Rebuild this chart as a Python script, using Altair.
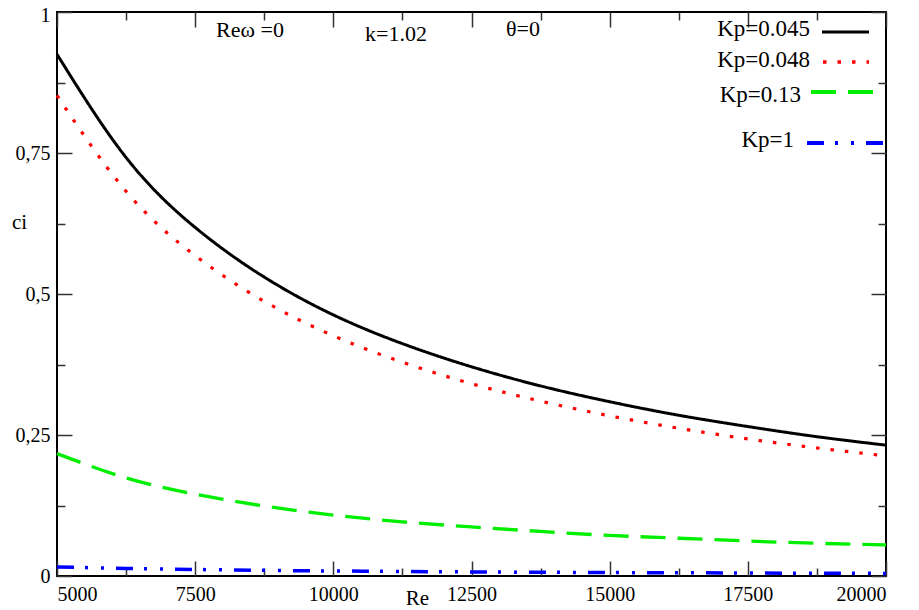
import altair as alt
import pandas as pd

# ---- data ----
re_vals = [5000, 6250, 7500, 8750, 10000, 11250, 12500, 13750, 15000, 16250, 17500, 18750, 20000]
ci_kp045 = [0.925, 0.742, 0.618, 0.530, 0.463, 0.412, 0.371, 0.337, 0.309, 0.285, 0.265, 0.247, 0.232]
ci_kp048 = [0.852, 0.682, 0.568, 0.487, 0.426, 0.379, 0.341, 0.310, 0.284, 0.262, 0.243, 0.227, 0.213]
ci_kp013 = [0.217, 0.174, 0.145, 0.124, 0.108, 0.096, 0.087, 0.079, 0.072, 0.067, 0.062, 0.058, 0.055]
ci_kp1 = [0.016, 0.0135, 0.0115, 0.0100, 0.0089, 0.0080, 0.0072, 0.0066, 0.0061, 0.0057, 0.0053, 0.0049, 0.0046]

kp_labels = ["Kp=0.045", "Kp=0.048", "Kp=0.13", "Kp=1"]
annot_texts = ["Reω =0", "k=1.02", "θ=0"]

x_major = [5000, 7500, 10000, 12500, 15000, 17500, 20000]
x_minor = [6250, 8750, 11250, 13750, 16250, 18750]
y_major = [0, 0.25, 0.5, 0.75, 1]
y_minor = [0.125, 0.375, 0.625, 0.875]

# ---- styles ----
colors = ["#000000", "#ff0000", "#00ee00", "#0000ff"]
dashes = [[1, 0], [3.5, 11], [25, 12], [17, 11, 3, 13, 3, 12]]
widths = [3, 3.5, 4, 4]

series = [ci_kp045, ci_kp048, ci_kp013, ci_kp1]
rows = []
for lab, ys in zip(kp_labels, series):
    for r, c in zip(re_vals, ys):
        rows.append({"Re": r, "ci": c, "Kp": lab})
df = pd.DataFrame(rows)

FONT = "Liberation Serif, Times New Roman, serif"
W, H = 829, 564
TOP = 12  # page y of plot top
xscale = alt.Scale(domain=[5000, 20000], nice=False, zero=False)
yscale = alt.Scale(domain=[0, 1], nice=False, zero=True)
TICK = "#333333"


def axis(values, orient, size, labels=False, **kw):
    return alt.Axis(
        orient=orient, values=values, labels=labels, domain=False, grid=False,
        tickSize={"expr": str(-size)}, tickColor=TICK, tickWidth=1.5, **kw
    )


lines = alt.Chart(df).mark_line(interpolate="natural").encode(
    x=alt.X("Re:Q", scale=xscale, title="Re",
            axis=axis(x_major, "bottom", 15, labels=True, format="d", labelPadding=23,
                      titleX=360, titleY=22, titleBaseline="middle", titleAlign="center")),
    y=alt.Y("ci:Q", scale=yscale, title="ci",
            axis=axis(y_major, "left", 15, labels=True, labelPadding=22,
                      labelExpr="replace(format(datum.value, '~g'), '.', ',')",
                      labelOffset={"condition": {"test": "datum.value == 1", "value": 3}, "value": 0},
                      titleAngle=0, titleX=-38, titleY=222 - TOP, titleAlign="center",
                      titleBaseline="middle")),
    color=alt.Color("Kp:N", scale=alt.Scale(domain=kp_labels, range=colors), legend=None),
    strokeDash=alt.StrokeDash("Kp:N", scale=alt.Scale(domain=kp_labels, range=dashes), legend=None),
    strokeWidth=alt.StrokeWidth("Kp:O", scale=alt.Scale(domain=kp_labels, range=widths), legend=None),
)


def ghost(xvals, xorient, xsize, yvals, yorient, ysize):
    return alt.Chart(df).mark_line(strokeOpacity=0).encode(
        x=alt.X("Re:Q", scale=xscale, title="", axis=axis(xvals, xorient, xsize)),
        y=alt.Y("ci:Q", scale=yscale, title="", axis=axis(yvals, yorient, ysize)),
        detail="Kp:N",
    )


g1 = ghost(x_minor, "bottom", 8, y_minor, "left", 8)
g2 = ghost(x_major, "top", 15, y_major, "right", 15)
g3 = ghost(x_minor, "top", 8, y_minor, "right", 8)

one = alt.Data(values=[{}])

annots = []
annot_pos = [(193, 30), (339, 34), (466, 29)]  # page y
for t, (px, py) in zip(annot_texts, annot_pos):
    annots.append(
        alt.Chart(one).mark_text(text=t, font=FONT, fontSize=22, color="black",
                                 align="center", baseline="middle")
        .encode(x=alt.value(px), y=alt.value(py - TOP))
    )

legend_layers = []
leg_text_pos = [(753, 36), (753, 67), (744, 102), (737, 147)]  # page y baselines
leg_line_pos = [(765, 812, 32), (766, 812, 62), (754, 816, 92), (750, 828, 143)]
for lab, col, dsh, wd, (tx, ty), (x1, x2, ly) in zip(kp_labels, colors, dashes, widths,
                                                       leg_text_pos, leg_line_pos):
    legend_layers.append(
        alt.Chart(one).mark_text(text=lab, font=FONT, fontSize=23, color="black",
                                 align="right", baseline="alphabetic")
        .encode(x=alt.value(tx), y=alt.value(ty - TOP))
    )
    legend_layers.append(
        alt.Chart(one).mark_rule(color=col, strokeDash=dsh, strokeWidth=wd)
        .encode(x=alt.value(x1), x2=alt.value(x2), y=alt.value(ly - TOP))
    )

chart = alt.layer(lines, g1, g2, g3, *annots, *legend_layers).resolve_axis(
    x="independent", y="independent"
).properties(
    width=W, height=H, autosize="none",
    padding={"left": 49, "top": TOP - 8, "right": 25, "bottom": 32},
).configure_view(
    stroke="black", strokeWidth=2
).configure_axis(
    labelFont=FONT, labelFontSize=20, labelColor="black",
    titleFont=FONT, titleFontSize=21, titleFontWeight="normal", titleColor="black",
)

chart.save("out.html", embed_options={"renderer": "svg", "actions": False})
